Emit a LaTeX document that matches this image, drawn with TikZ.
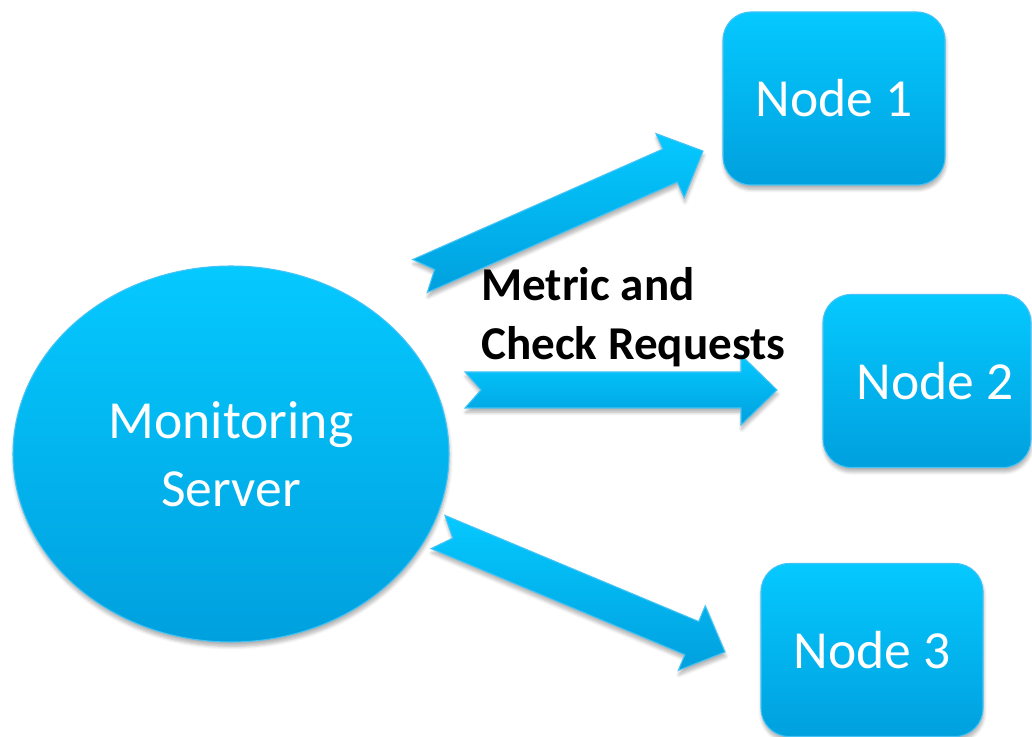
\documentclass[tikz,border=0pt]{standalone}
\usepackage{fontspec}
\setmainfont{Carlito}
\usepackage{tikz}
\usetikzlibrary{positioning,calc,shapes.geometric,shadows.blur}

\definecolor{skytop}{RGB}{5,201,255}
\definecolor{skybottom}{RGB}{0,160,222}
\definecolor{skyedge}{RGB}{70,195,245}

% notched block arrow from tail coordinate #1 to tip coordinate #2
\newcommand{\blockarrow}[2]{%
  \path (#1); \pgfgetlastxy{\tailx}{\taily}
  \path (#2); \pgfgetlastxy{\tipx}{\tipy}
  \pgfmathsetmacro{\arrangle}{atan2(\tipy-\taily,\tipx-\tailx)}
  \pgfmathsetmacro{\arrlength}{veclen(\tipx-\tailx,\tipy-\taily)}
  \path[flow, shift={(#1)}, rotate=\arrangle]
    (0,0.36) -- ({\arrlength pt-0.72cm},0.36)
    -- ({\arrlength pt-0.72cm},0.70) -- ({\arrlength pt},0)
    -- ({\arrlength pt-0.72cm},-0.70) -- ({\arrlength pt-0.72cm},-0.36)
    -- (0,-0.36) -- (0.32,0) -- cycle;
}

\begin{document}
\begin{tikzpicture}

\tikzstyle{bluefill}=[top color=skytop,bottom color=skybottom,draw=skyedge,line width=0.6pt,
  blur shadow={shadow xshift=0.4pt,shadow yshift=-2.5pt,shadow blur steps=6,shadow opacity=30}]
\tikzstyle{server}=[ellipse,bluefill,minimum width=8.72cm,minimum height=7.52cm,
  text=white,align=center,font=\fontsize{30.5}{38.5}\selectfont]
\tikzstyle{host}=[rectangle,rounded corners=0.56cm,bluefill,minimum width=4.44cm,
  minimum height=3.46cm,text=white,font=\fontsize{30.5}{37}\selectfont]
\tikzstyle{flow}=[bluefill]

\useasboundingbox (0,0) rectangle (20.64,14.72);

\node[server] (srv) at (4.62,5.64) {Monitoring\\Server};
\node[host] (n1) at (16.68,12.75) {Node 1};
\node[host,minimum width=4.16cm] (n2) at (18.54,7.10) {\hspace{0.32cm}Node 2};
\node[host] (n3) at (17.44,1.72) {Node 3};

\coordinate (a1) at (8.40,9.20);  \coordinate (b1) at (14.06,11.70);
\coordinate (a2) at (9.30,6.92);  \coordinate (b2) at (15.54,6.92);
\coordinate (a3) at (8.76,4.08);  \coordinate (b3) at (14.50,1.68);

\blockarrow{a1}{b1}
\blockarrow{a2}{b2}
\blockarrow{a3}{b3}

\node[anchor=north west,inner sep=0pt,align=left,font=\bfseries\fontsize{26.8}{33.6}\selectfont]
  (lbl) at (9.62,9.38) {Metric and\\Check Requests};

\end{tikzpicture}
\end{document}
